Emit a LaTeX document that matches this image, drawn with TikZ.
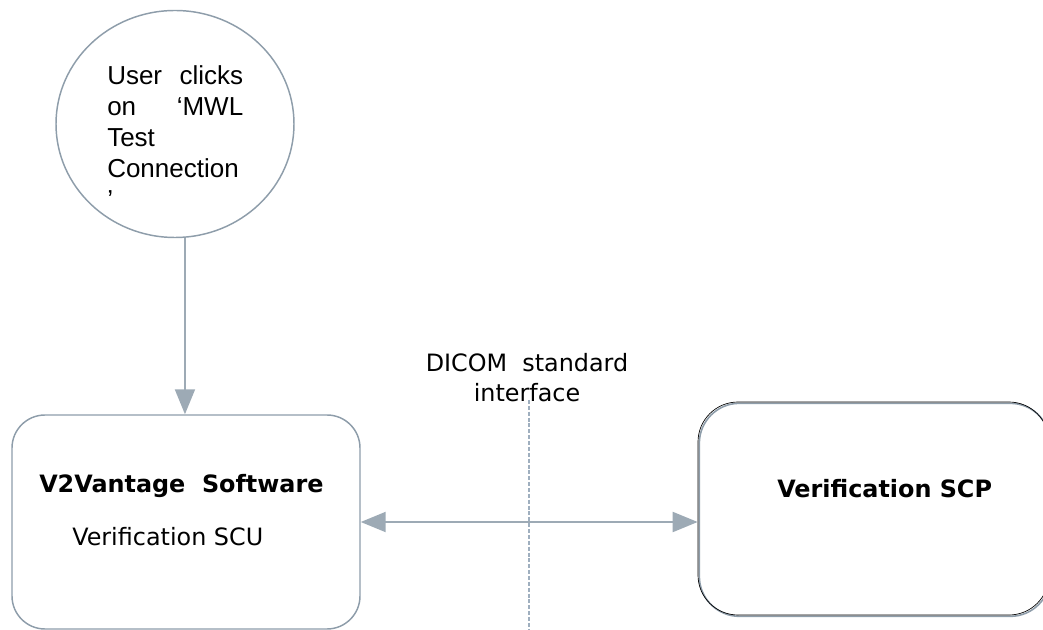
\documentclass[tikz,border=0pt]{standalone}
\usepackage{fontspec}
\usepackage{xcolor}
\usepackage{tikz}
\usetikzlibrary{arrows.meta,positioning,calc,shapes.geometric}
\newfontfamily\arialfont{Liberation Sans}
\newfontfamily\verdanafont{DejaVu Sans}
\definecolor{EdgeGray}{HTML}{8E9DAA}
\definecolor{ArrowGray}{HTML}{9DAAB5}
\definecolor{DashBlue}{HTML}{9FAFBF}
\tikzset{flowtip/.tip={Triangle[length=18.75pt,width=15pt]}}

\begin{document}
\begin{tikzpicture}[x=0.75pt,y=-0.75pt,
  edge/.style={draw=EdgeGray,line width=1.1pt},
  flow/.style={draw=ArrowGray,line width=1.5pt},
  vtext/.style={inner sep=0pt,font=\verdanafont\fontsize{17.9pt}{22.5pt}\selectfont},
  vbold/.style={vtext,font=\verdanafont\bfseries\fontsize{17.9pt}{22.5pt}\selectfont}]
\useasboundingbox (0,0) rectangle (1043,630);
\clip (0,0) rectangle (1043,630);
% user action
\node[edge,ellipse,minimum width=178.5pt,minimum height=170.25pt] (circ) at (175,124) {};
\node[inner sep=0pt,anchor=base west,text width=102pt,align=left,
      font=\arialfont\fontsize{19.5pt}{23.25pt}\selectfont] (usertext) at (107,85)
{User\hfill clicks\\ on\hfill ‘MWL\\ Test\\ Connection\\ ’};
% scu side
\node[edge,rounded corners=24.75pt,minimum width=261pt,minimum height=160.5pt] (box1) at (186,522) {};
\node[vbold,anchor=base west] (swname) at (39,493) {V2Vantage\ \ Software};
\node[vtext,anchor=base west] (scu) at (72,546) {Verification SCU};
% scp side
\node[draw=black,line width=0.5pt,rounded corners=30pt,minimum width=263.25pt,minimum height=159.75pt,
      preaction={draw=EdgeGray,line width=1.2pt,transform canvas={xshift=1pt,yshift=-1pt}}] (box2) at (873.5,508.5) {};
\node[vbold,anchor=base west] (scp) at (777,498) {Verification SCP};
% interface
\coordinate (dtop) at (529,400);
\coordinate (dbot) at (529,630);
\draw[DashBlue,line width=1.6pt,dash pattern=on 3pt off 1.4pt] (dtop) -- (dbot);
\node[vtext,anchor=base,align=center] (dicom) at (527,402) {DICOM\ \ standard\\interface};
% connectors
\draw[flow,-flowtip] (circ.-85) -- (circ.-85 |- box1.north);
\draw[flow,flowtip-flowtip] (box1.east) -- (box1.east -| box2.west);
\end{tikzpicture}
\end{document}
